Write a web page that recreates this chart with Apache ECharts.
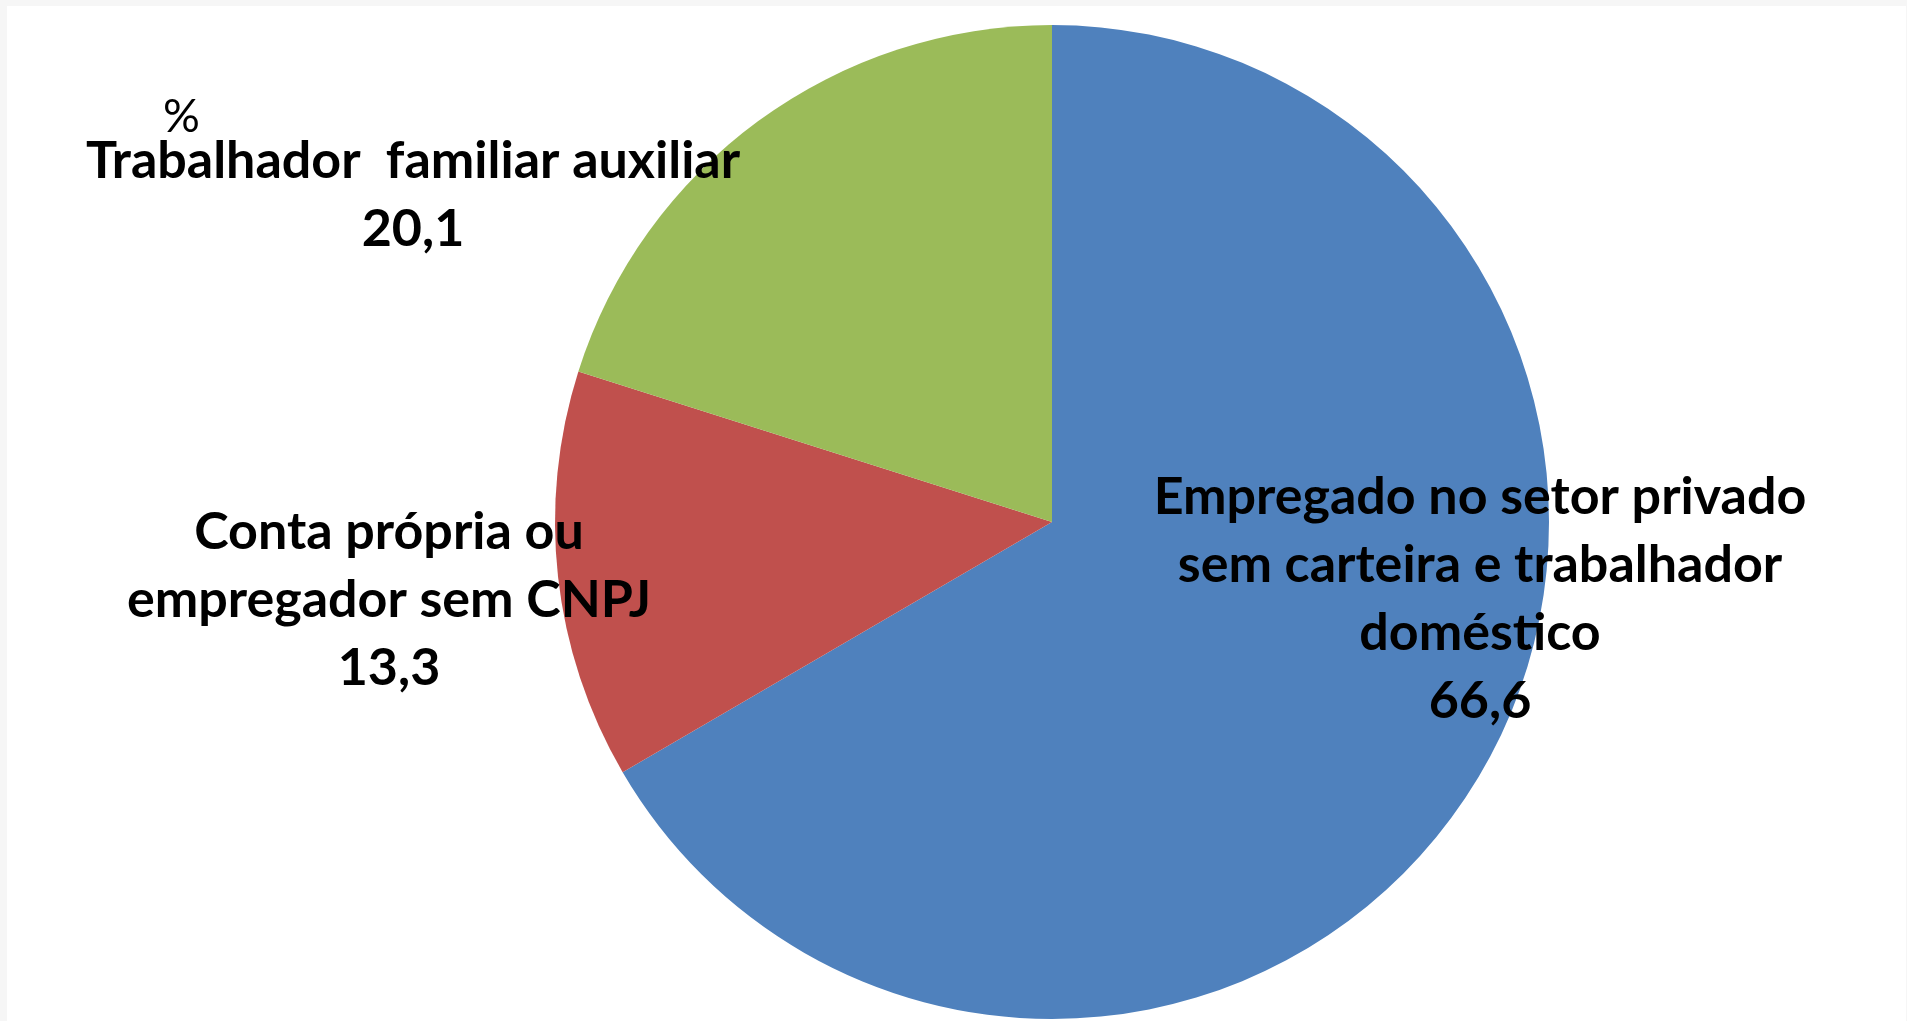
<!DOCTYPE html>
<html>
<head>
<meta charset="utf-8">
<script src="https://cdn.jsdelivr.net/npm/echarts@6/dist/echarts.min.js"></script>
<style>
  html, body { margin: 0; padding: 0; background: #f6f6f6; overflow: hidden; }
  #chart { position: absolute; left: 7px; top: 6px; width: 1899px; height: 1015px; background: #fff; }
</style>
</head>
<body>
<div id="chart"></div>
<script>
// dados do gráfico (%)
const categorias = [
  'Empregado no setor privado\nsem carteira e trabalhador\ndoméstico',
  'Conta própria ou\nempregador sem CNPJ',
  'Trabalhador  familiar auxiliar'
]
const valores = [66.6, 13.3, 20.1]
const cores = ['#4f81bd', '#c0504d', '#9bbb59']

// posição dos rótulos (centro do bloco de texto)
const posRotulos = [
  { x: 1473, y: 593 },
  { x: 382, y: 594 },
  { x: 406, y: 189 }
]

const chart = echarts.init(document.getElementById('chart'))

const option = {
  animation: false,
  title: {
    text: '%',
    left: 151,
    top: 83,
    textStyle: { fontFamily: 'Lato', fontWeight: 'normal', fontSize: 46, color: '#000' }
  },
  series: [
    {
      type: 'pie',
      center: [1045, 516],
      radius: [0, 497],
      startAngle: 90,
      clockwise: true,
      data: valores.map((v, i) => ({
        name: categorias[i],
        value: v,
        itemStyle: { color: cores[i] }
      })),
      label: {
        show: true,
        formatter: p => p.name + '\n' + p.value.toFixed(1).replace('.', ','),
        fontFamily: 'Lato',
        fontWeight: 'bold',
        fontSize: 52,
        lineHeight: 68,
        color: '#000',
        align: 'center',
        overflow: 'none',
        width: 900
      },
      labelLine: { show: false },
      labelLayout: params => ({
        x: posRotulos[params.dataIndex].x,
        y: posRotulos[params.dataIndex].y,
        align: 'center',
        verticalAlign: 'middle'
      })
    }
  ]
}

chart.setOption(option)
</script>
</body>
</html>
